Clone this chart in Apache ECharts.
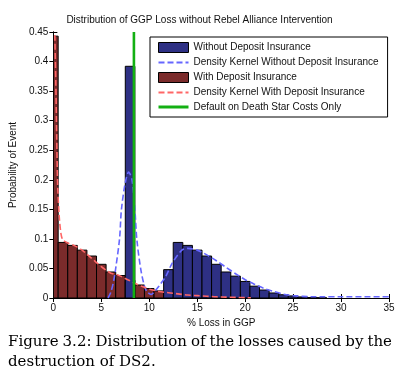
<!DOCTYPE html>
<html>
<head>
<meta charset="utf-8">
<script src="https://cdn.jsdelivr.net/npm/echarts@6/dist/echarts.min.js"></script>
<style>html,body{margin:0;padding:0;background:#fff;}#c{width:399px;height:383px;}</style>
</head>
<body>
<div id="c"></div>
<script>
// ---- data ----
const titleText = 'Distribution of GGP Loss without Rebel Alliance Intervention';
const xAxisName = '% Loss in GGP';
const yAxisName = 'Probability of Event';
const captionLines = ['Figure 3.2:  Distribution of the losses caused by the', 'destruction of DS2.'];
const seriesNames = ['Without Deposit Insurance', 'Density Kernel Without Deposit Insurance', 'With Deposit Insurance', 'Density Kernel With Deposit Insurance', 'Default on Death Star Costs Only'];

const withoutBins = [8, 12, 13, 14, 15, 16, 17, 18, 19, 20, 21, 22, 23, 24, 25, 26, 27, 28];
const withoutHeights = [0.392, 0.048, 0.094, 0.089, 0.081, 0.071, 0.057, 0.044, 0.037, 0.028, 0.020, 0.0135, 0.0085, 0.0055, 0.0035, 0.0018, 0.0008, 0.0004];

const withBins = [0, 1, 2, 3, 4, 5, 6, 7, 8, 9, 10, 11, 12, 13, 14, 15, 16, 17, 18, 19, 20];
const withHeights = [0.443, 0.094, 0.089, 0.081, 0.071, 0.057, 0.044, 0.038, 0.030, 0.022, 0.016, 0.012, 0.009, 0.007, 0.005, 0.004, 0.003, 0.002, 0.0015, 0.001, 0.0005];

const kernelWithoutX = [5.7, 6.0, 6.3, 6.5, 6.9, 7.1, 7.5, 7.85, 8.2, 8.5, 8.7, 9.1, 9.5, 9.8, 10.2, 10.6, 11.0, 11.7, 12.4, 13.4, 14, 15, 16, 17, 18, 19, 20, 21, 22, 23, 24, 25, 26, 27, 28, 30, 35];
const kernelWithoutY = [0.0, 0.01, 0.03, 0.05, 0.10, 0.15, 0.195, 0.213, 0.20, 0.15, 0.10, 0.05, 0.02, 0.01, 0.006, 0.012, 0.02, 0.036, 0.059, 0.081, 0.084, 0.081, 0.073, 0.063, 0.052, 0.041, 0.031, 0.023, 0.016, 0.011, 0.0065, 0.004, 0.0028, 0.002, 0.002, 0.002, 0.002];

const kernelWithX = [0.15, 0.25, 0.35, 0.45, 0.6, 0.8, 1.0, 1.5, 2, 2.5, 3, 3.5, 4, 4.5, 5, 5.5, 6, 6.5, 7, 7.5, 8, 8.5, 9, 9.5, 10, 10.5, 11, 12, 13, 14, 15, 16, 17, 18, 19, 20, 20.6];
const kernelWithY = [0.445, 0.37, 0.27, 0.19, 0.14, 0.108, 0.098, 0.093, 0.09, 0.086, 0.081, 0.074, 0.067, 0.06, 0.053, 0.047, 0.042, 0.04, 0.037, 0.033, 0.029, 0.025, 0.021, 0.018, 0.015, 0.013, 0.011, 0.009, 0.007, 0.005, 0.004, 0.003, 0.002, 0.0015, 0.001, 0.0006, 0.0004];

const defaultCostX = 8.4;

const xMin = 0, xMax = 35, xStep = 5;
const yMin = 0, yMax = 0.45, yStep = 0.05;
const binWidth = 1;

// ---- colors ----
const blueBar = '#2e3084';
const redBar = '#7b2b2b';
const blueKernel = '#6666ff';
const redKernel = '#ff6666';
const green = '#13b013';

function zip(a, b) { return a.map((v, i) => [v, b[i]]); }

function histRender(fill) {
  return function (params, api) {
    const x = api.value(0), h = api.value(1);
    const p0 = api.coord([x - binWidth / 2, h]);
    const p1 = api.coord([x + binWidth / 2, 0]);
    const shape = echarts.graphic.clipRectByRect(
      { x: p0[0], y: p0[1], width: p1[0] - p0[0], height: p1[1] - p0[1] },
      { x: params.coordSys.x, y: params.coordSys.y, width: params.coordSys.width, height: params.coordSys.height }
    );
    if (!shape) return;
    return { type: 'rect', shape: shape, style: { fill: fill, stroke: '#000', lineWidth: 1 } };
  };
}

// justified caption line built from words
const capFont = '15px "DejaVu Serif", serif';
function justifiedLine(text, left, right, top, justify) {
  const cv = document.createElement('canvas').getContext('2d');
  cv.font = capFont;
  const words = text.split(/\s+/);
  const widths = words.map(w => cv.measureText(w).width);
  const total = widths.reduce((a, b) => a + b, 0);
  const space = justify ? (right - left - total) / (words.length - 1) : cv.measureText(' ').width * 1.0;
  let x = left;
  return words.map((w, i) => {
    const el = { type: 'text', x: x, y: top, style: { text: w, font: capFont, fill: '#000' } };
    x += widths[i] + space;
    return el;
  });
}

const chart = echarts.init(document.getElementById('c'), null, { renderer: 'canvas' });
const fontFam = '"Liberation Sans", Arial, sans-serif';
const axisCommon = {
  axisLine: { lineStyle: { color: '#000', width: 1 } },
  axisTick: { inside: true, length: 4, lineStyle: { color: '#000' } },
  splitLine: { show: false }
};
const hideDot = { color: 'rgba(0,0,0,0)', borderWidth: 0, opacity: 0 };

chart.setOption({
  animation: false,
  backgroundColor: '#fff',
  title: {
    text: titleText, left: 'center', top: 15, padding: 0,
    textStyle: { fontSize: 10, fontWeight: 'normal', color: '#111', fontFamily: fontFam }
  },
  grid: { left: 50, right: 10, top: 32, bottom: 85, containLabel: false },
  legend: {
    orient: 'vertical', left: 150, top: 37,
    padding: [5, 9, 5, 7], itemGap: 4.5, itemWidth: 30, itemHeight: 10,
    backgroundColor: '#fff', borderColor: '#000', borderWidth: 1,
    textStyle: { fontSize: 10, color: '#111', fontFamily: fontFam },
    data: [
      { name: seriesNames[0], icon: 'rect', itemStyle: { color: blueBar, borderColor: '#000', borderWidth: 1 } },
      { name: seriesNames[1], itemStyle: hideDot },
      { name: seriesNames[2], icon: 'rect', itemStyle: { color: redBar, borderColor: '#000', borderWidth: 1 } },
      { name: seriesNames[3], itemStyle: hideDot },
      { name: seriesNames[4], itemStyle: hideDot, lineStyle: { width: 3 } }
    ]
  },
  xAxis: [
    Object.assign({
      type: 'value', min: xMin, max: xMax, interval: xStep, position: 'bottom',
      name: xAxisName, nameLocation: 'middle', nameGap: 16,
      nameTextStyle: { fontSize: 10, color: '#111', fontFamily: fontFam },
      axisLabel: { fontSize: 10, color: '#111', margin: 5, fontFamily: fontFam }
    }, axisCommon),
    Object.assign({
      type: 'value', min: xMin, max: xMax, interval: xStep, position: 'top',
      axisLabel: { show: false }
    }, axisCommon)
  ],
  yAxis: [
    Object.assign({
      type: 'value', min: yMin, max: yMax, interval: yStep, position: 'left',
      name: yAxisName, nameLocation: 'middle', nameGap: 29,
      nameTextStyle: { fontSize: 10, color: '#111', fontFamily: fontFam },
      axisLabel: { fontSize: 10, color: '#111', margin: 5, fontFamily: fontFam }
    }, axisCommon),
    Object.assign({
      type: 'value', min: yMin, max: yMax, interval: yStep, position: 'right',
      axisLabel: { show: false }
    }, axisCommon)
  ],
  series: [
    {
      name: seriesNames[2], type: 'custom', xAxisIndex: 0, yAxisIndex: 0, z: 1,
      itemStyle: { color: redBar }, clip: true,
      renderItem: histRender(redBar), data: zip(withBins, withHeights)
    },
    {
      name: seriesNames[0], type: 'custom', xAxisIndex: 0, yAxisIndex: 0, z: 2,
      itemStyle: { color: blueBar }, clip: true,
      renderItem: histRender(blueBar), data: zip(withoutBins, withoutHeights)
    },
    {
      name: seriesNames[1], type: 'line', z: 3, symbol: 'none', smooth: 0.3,
      itemStyle: { color: blueKernel },
      lineStyle: { color: blueKernel, width: 1.6, type: [6, 3] },
      data: zip(kernelWithoutX, kernelWithoutY)
    },
    {
      name: seriesNames[3], type: 'line', z: 3, symbol: 'none', smooth: 0.3,
      itemStyle: { color: redKernel },
      lineStyle: { color: redKernel, width: 1.6, type: [6, 3] },
      data: zip(kernelWithX, kernelWithY)
    },
    {
      name: seriesNames[4], type: 'line', z: 4, symbol: 'none',
      itemStyle: { color: green },
      lineStyle: { color: green, width: 2.6 },
      data: [[defaultCostX, yMin], [defaultCostX, yMax]]
    }
  ],
  graphic: justifiedLine(captionLines[0], 8, 392, 335, true)
    .concat(justifiedLine(captionLines[1], 8, 392, 355, false))
});
</script>
</body>
</html>
